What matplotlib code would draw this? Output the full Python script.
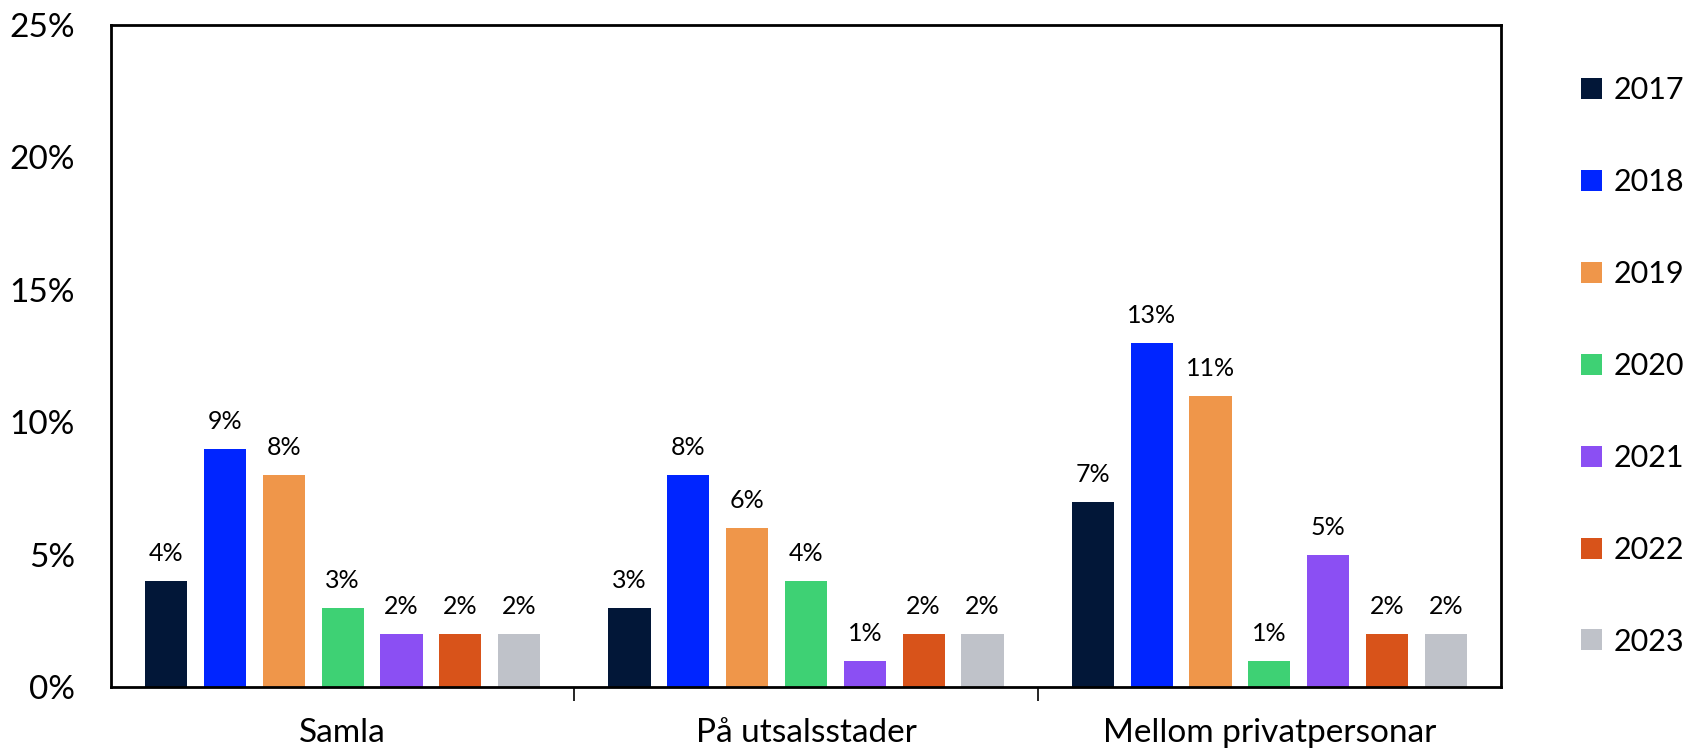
import numpy as np
import matplotlib.pyplot as plt
from matplotlib.ticker import FuncFormatter

plt.rcParams['font.family'] = ['Lato', 'DejaVu Sans']

# Data
categories = ["Samla", "På utsalsstader", "Mellom privatpersonar"]
years = ["2017", "2018", "2019", "2020", "2021", "2022", "2023"]
values = {
    "2017": [4, 3, 7],
    "2018": [9, 8, 13],
    "2019": [8, 6, 11],
    "2020": [3, 4, 1],
    "2021": [2, 1, 5],
    "2022": [2, 2, 2],
    "2023": [2, 2, 2],
}
colors = ["#021738", "#0025FF", "#EF964A", "#3ED174", "#8B4FF3", "#D8531A", "#BFC2C9"]

fig = plt.figure(figsize=(16.9, 7.54), dpi=100)
ax = fig.add_axes([111 / 1690, 1 - 687 / 754, (1501 - 111) / 1690, (687 - 25) / 754])

x = np.arange(len(categories))
step = 0.127
width = 0.091
for i, yr in enumerate(years):
    pos = x + (i - 3) * step
    bars = ax.bar(pos, values[yr], width, color=colors[i], label=yr)
    for b, v in zip(bars, values[yr]):
        ax.text(b.get_x() + b.get_width() / 2, v + 0.6, f"{v}%",
                ha="center", va="bottom", fontsize=18)

ax.set_xlim(-0.5, 2.5)
ax.set_ylim(0, 25)
ax.set_yticks(range(0, 26, 5))
ax.yaxis.set_major_formatter(FuncFormatter(lambda v, p: f"{v:.0f}%"))
ax.tick_params(axis="y", length=0, labelsize=24, pad=26)
ax.set_xticks(x)
ax.set_xticklabels(categories)
ax.tick_params(axis="x", which="major", length=0, labelsize=24, pad=22)
ax.set_xticks([0.5, 1.5], minor=True)
ax.tick_params(axis="x", which="minor", length=10, width=1.2, direction="out")
for s in ax.spines.values():
    s.set_linewidth(2)

handles, labels = ax.get_legend_handles_labels()
fig.legend(handles, labels, loc="center left", bbox_to_anchor=(1581 / 1690, 1 - 366 / 754),
           frameon=False, fontsize=22, handlelength=0.68, handleheight=0.68,
           handletextpad=0.4, labelspacing=2.09, borderpad=0, borderaxespad=0)

fig.savefig("out.png", dpi=100)
